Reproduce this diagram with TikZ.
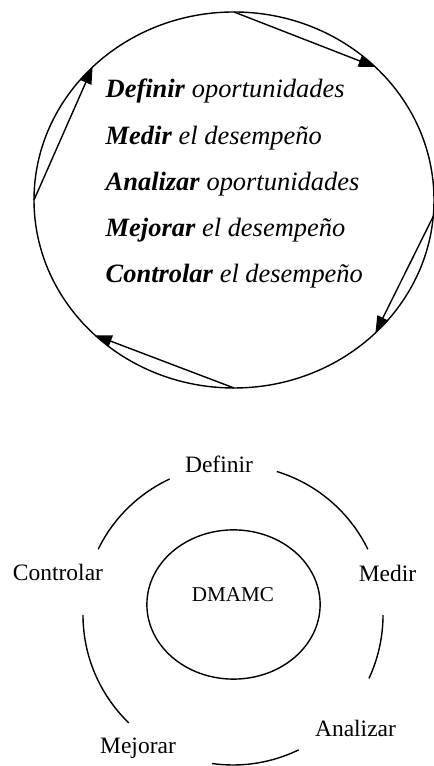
\documentclass[tikz,border=0pt]{standalone}
\usepackage{fontspec}
\setmainfont{Liberation Serif}
\usetikzlibrary{arrows.meta,calc,shapes.geometric}
\begin{document}
\begin{tikzpicture}[x=0.025cm, y=0.025cm, line width=1pt,
    phase/.style={anchor=base, inner sep=0pt, font=\fontsize{16.7}{20}\selectfont},
    stepline/.style={-{Triangle[length=4.2mm,width=3mm]}}]
    \useasboundingbox (0,0) rectangle (433,766);
    %! --- Ciclo ---
    \coordinate (cycle) at (234,566);
    \draw (cycle) ellipse [x radius=200, y radius=188];
    % Chords with arrows
    \foreach \a/\b [count=\k] in {90/45, -5/-45, -90/-134, 180/135} {
        \coordinate (s\k) at ($(cycle)+(\a:200 and 188)$);
        \coordinate (e\k) at ($(cycle)+(\b:200 and 188)$);
        \draw[stepline] (s\k) -- (e\k);
    }
    % Phase lines
    \foreach \i/\f/\t in {0/Definir/oportunidades, 1/Medir/el desempeño, 2/Analizar/oportunidades, 3/Mejorar/el desempeño, 4/Controlar/el desempeño} {
        \node[anchor=base west, inner sep=0pt, font=\fontsize{18.8}{22}\selectfont] (line\i) at (105,668-46.2*\i) {\textbf{\textit{\f}} \textit{\t}};
    }
    %! --- DMAMC ---
    \coordinate (ring) at (233,151);
    \foreach \a/\b in {115/154, 26/73, -25/0, -98/-64, 180/226} {
        \draw ([shift={(\a:150)}]ring) arc[start angle=\a, end angle=\b, radius=150];
    }
    \node[draw, ellipse, minimum width=4.33cm, minimum height=3.73cm] (core) at (233.5,161.5) {};
    \node[inner sep=0pt, font=\fontsize{15}{18}\selectfont] (dmamc) at (233,171.5) {DMAMC};
    % Phase labels
    \foreach \n/\x/\y in {Definir/219/293, Medir/387.5/184, Analizar/355.5/29, Mejorar/138/12, Controlar/58/185} {
        \node[phase] (\n) at (\x,\y) {\n};
    }
\end{tikzpicture}
\end{document}
